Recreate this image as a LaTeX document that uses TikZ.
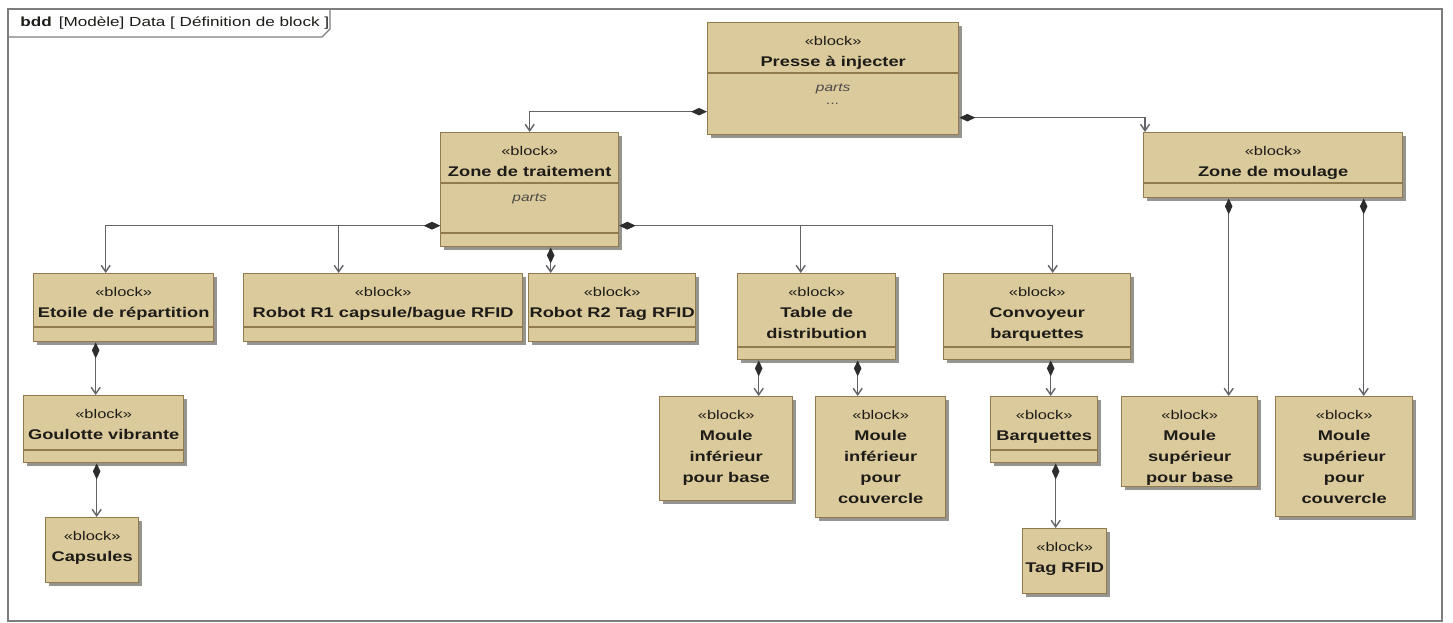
\documentclass[tikz,border=0pt]{standalone}
\usepackage{fontspec}
\setmainfont{Liberation Sans}[FakeStretch=1.3]
\usepackage{xcolor}
\usetikzlibrary{arrows.meta,shadows}

\definecolor{blockc}{RGB}{219,203,156}
\definecolor{bordc}{RGB}{145,122,78}
\definecolor{shadc}{RGB}{150,148,142}
\definecolor{textc}{RGB}{30,28,24}
\definecolor{linec}{RGB}{100,100,104}
\definecolor{diamc}{RGB}{45,45,45}
\definecolor{framec}{RGB}{125,125,125}

\newcommand{\blkname}[1]{{\fontsize{8}{12}\selectfont\bfseries #1}}

\begin{document}
\begin{tikzpicture}[
    x=0.02cm, y=-0.02cm,
    block/.style={draw=bordc, fill=blockc, line width=0.8pt, anchor=north west, inner sep=0pt, drop shadow={shadow xshift=0.06cm, shadow yshift=-0.06cm, fill=shadc, opacity=1}},
    btext/.style={anchor=north, align=center, inner sep=0pt, yshift=-0.27cm, text=textc, font=\fontsize{7.2}{12}\selectfont},
    ptext/.style={anchor=north, inner sep=0pt, text=textc!80, font=\fontsize{6.8}{8}\selectfont\itshape},
    divline/.style={draw=bordc, line width=0.6pt},
    frame/.style={draw=framec, line width=0.8pt},
    comp/.style={draw=linec, line width=0.8pt, {Diamond[length=0.32cm,width=0.15cm,fill=diamc,color=diamc]}-{Straight Barb[length=0.13cm,width=0.18cm,color=linec]}}
]
\useasboundingbox[fill=white] (0,0) rectangle (1453,622);
\draw[frame] (8,9) rectangle (1442,621);
\draw[frame] (8,37) -- (322,37) -- (330,29) -- (330,9);
\node (hdr) [anchor=west, inner sep=0pt, text=textc, font=\fontsize{7.5}{9}\selectfont] at (20,23) {\textbf{bdd}\hspace{4pt}[Modèle] Data [ Définition de block ]};

\node (pi) [block, minimum width=5.02cm, minimum height=2.24cm,
    label={[btext]north:{«block»\\\blkname{Presse à injecter}}},
    label={[ptext, yshift=-1.22cm]north:parts},
    label={[ptext, yshift=-1.62cm]north:...}] at (707,22) {};
\node (zt) [block, minimum width=3.56cm, minimum height=2.28cm,
    label={[btext]north:{«block»\\\blkname{Zone de traitement}}},
    label={[ptext, yshift=-1.22cm]north:parts}] at (440,132) {};
\node (zm) [block, minimum width=5.18cm, minimum height=1.30cm,
    label={[btext]north:{«block»\\\blkname{Zone de moulage}}}] at (1143,132) {};
\node (er) [block, minimum width=3.60cm, minimum height=1.36cm,
    label={[btext]north:{«block»\\\blkname{Etoile de répartition}}}] at (33,273) {};
\node (r1) [block, minimum width=5.58cm, minimum height=1.36cm,
    label={[btext]north:{«block»\\\blkname{Robot R1 capsule/bague RFID}}}] at (243,273) {};
\node (r2) [block, minimum width=3.34cm, minimum height=1.36cm,
    label={[btext]north:{«block»\\\blkname{Robot R2 Tag RFID}}}] at (528,273) {};
\node (td) [block, minimum width=3.16cm, minimum height=1.72cm,
    label={[btext]north:{«block»\\\blkname{Table de}\\\blkname{distribution}}}] at (737,273) {};
\node (cb) [block, minimum width=3.74cm, minimum height=1.72cm,
    label={[btext]north:{«block»\\\blkname{Convoyeur}\\\blkname{barquettes}}}] at (943,273) {};
\node (gv) [block, minimum width=3.20cm, minimum height=1.34cm,
    label={[btext]north:{«block»\\\blkname{Goulotte vibrante}}}] at (23,395) {};
\node (cp) [block, minimum width=1.86cm, minimum height=1.30cm,
    label={[btext]north:{«block»\\\blkname{Capsules}}}] at (45,517) {};
\node (mib) [block, minimum width=2.66cm, minimum height=2.08cm,
    label={[btext]north:{«block»\\\blkname{Moule}\\\blkname{inférieur}\\\blkname{pour base}}}] at (659,396) {};
\node (mic) [block, minimum width=2.60cm, minimum height=2.42cm,
    label={[btext]north:{«block»\\\blkname{Moule}\\\blkname{inférieur}\\\blkname{pour}\\\blkname{couvercle}}}] at (815,396) {};
\node (bq) [block, minimum width=2.14cm, minimum height=1.32cm,
    label={[btext]north:{«block»\\\blkname{Barquettes}}}] at (990,396) {};
\node (tag) [block, minimum width=1.68cm, minimum height=1.30cm,
    label={[btext]north:{«block»\\\blkname{Tag RFID}}}] at (1022,528) {};
\node (msb) [block, minimum width=2.72cm, minimum height=1.80cm,
    label={[btext]north:{«block»\\\blkname{Moule}\\\blkname{supérieur}\\\blkname{pour base}}}] at (1121,396) {};
\node (msc) [block, minimum width=2.74cm, minimum height=2.40cm,
    label={[btext]north:{«block»\\\blkname{Moule}\\\blkname{supérieur}\\\blkname{pour}\\\blkname{couvercle}}}] at (1275,396) {};

\foreach \n/\d in {pi/1.02, zt/1.02, zt/2.02, zm/1.02, er/1.08, r1/1.08, r2/1.08, td/1.48, cb/1.48, gv/1.10, bq/1.08}
    \draw[divline] ([yshift=-\d cm]\n.north west) -- ([yshift=-\d cm]\n.north east);

\draw[comp] ([yshift=-0.66cm]pi.west) -| (zt.north);
\draw[comp] ([yshift=-0.78cm]pi.east) -| ([xshift=0.04cm]zm.north west);
\draw[comp] ([yshift=-0.72cm]zt.west) -| ([xshift=-0.36cm]er.north);
\draw[comp] ([yshift=-0.72cm]zt.west) -| ([xshift=-0.89cm]r1.north);
\draw[comp] ([xshift=0.42cm]zt.south) -- ([xshift=0.42cm]zt.south |- r2.north);
\draw[comp] ([yshift=-0.72cm]zt.east) -| ([xshift=-0.32cm]td.north);
\draw[comp] ([yshift=-0.72cm]zt.east) -| ([xshift=0.31cm]cb.north);
\draw[comp] ([xshift=-0.89cm]zm.south) -- ([xshift=-0.89cm]zm.south |- msb.north);
\draw[comp] ([xshift=1.81cm]zm.south) -- ([xshift=1.81cm]zm.south |- msc.north);
\draw[comp] ([xshift=-0.56cm]er.south) -- ([xshift=-0.56cm]er.south |- gv.north);
\draw[comp] ([xshift=-0.14cm]gv.south) -- ([xshift=-0.14cm]gv.south |- cp.north);
\draw[comp] ([xshift=-1.16cm]td.south) -- ([xshift=-1.16cm]td.south |- mib.north);
\draw[comp] ([xshift=0.82cm]td.south) -- ([xshift=0.82cm]td.south |- mic.north);
\draw[comp] ([xshift=0.27cm]cb.south) -- ([xshift=0.27cm]cb.south |- bq.north);
\draw[comp] ([xshift=0.23cm]bq.south) -- ([xshift=0.23cm]bq.south |- tag.north);
\end{tikzpicture}
\end{document}
